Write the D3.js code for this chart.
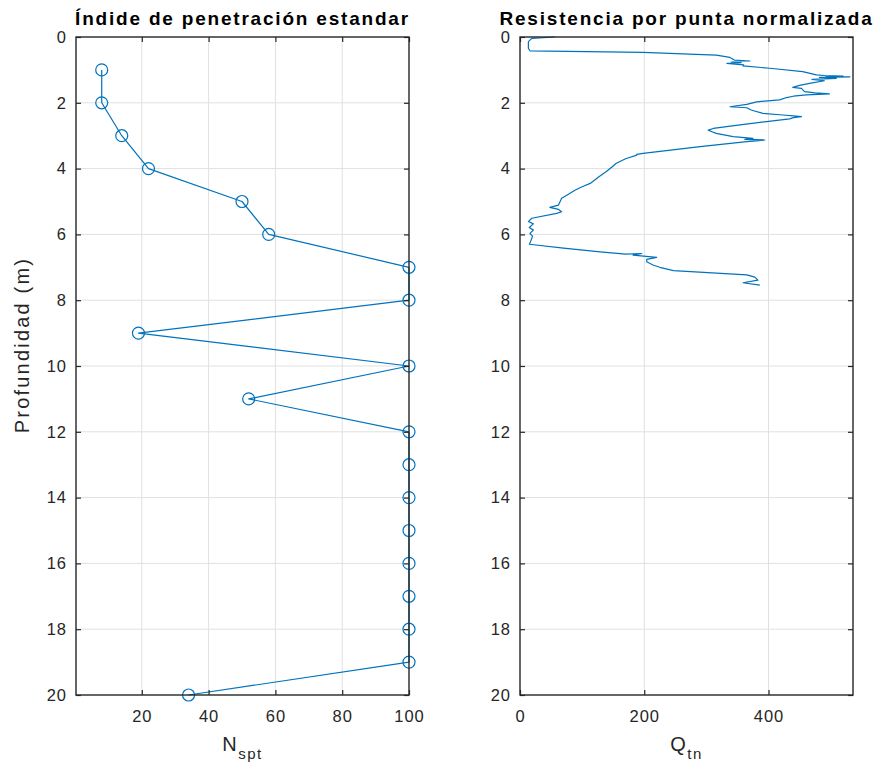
<!DOCTYPE html>
<html>
<head>
<meta charset="utf-8">
<script src="https://cdn.jsdelivr.net/npm/d3@7"></script>
<style>
  html, body { margin: 0; padding: 0; background: #ffffff; }
  svg { display: block; font-family: "Liberation Sans", Arial, Helvetica, sans-serif; }
</style>
</head>
<body>
<svg id="chart" width="886" height="768"></svg>
<script>
// SPT blow counts per metre of depth
const sptDepth = [1, 2, 3, 4, 5, 6, 7, 8, 9, 10, 11, 12, 13, 14, 15, 16, 17, 18, 19, 20];
const sptN     = [8, 8, 14, 22, 50, 58, 100, 100, 19, 100, 52, 100, 100, 100, 100, 100, 100, 100, 100, 34];

// Normalized cone tip resistance profile (depth in m, Qtn)
const cptDepth = [0.00, 0.04, 0.14, 0.34, 0.42, 0.47, 0.55, 0.62, 0.70, 0.73, 0.76, 0.78, 0.80, 0.85, 0.88, 0.95, 1.05, 1.15, 1.17, 1.19, 1.20, 1.21, 1.23, 1.26, 1.29, 1.33, 1.41, 1.47, 1.53, 1.56, 1.66, 1.70, 1.73, 1.76, 1.80, 1.84, 1.91, 1.97, 2.05, 2.12, 2.15, 2.22, 2.32, 2.37, 2.40, 2.42, 2.45, 2.49, 2.57, 2.67, 2.78, 2.83, 2.88, 2.93, 3.03, 3.08, 3.11, 3.13, 3.16, 3.18, 3.33, 3.54, 3.57, 3.59, 3.70, 3.84, 3.95, 4.09, 4.25, 4.45, 4.55, 4.65, 4.80, 4.90, 5.11, 5.18, 5.24, 5.31, 5.36, 5.51, 5.61, 5.68, 5.79, 5.87, 5.97, 6.05, 6.12, 6.22, 6.30, 6.42, 6.53, 6.60, 6.58, 6.63, 6.70, 6.76, 6.83, 6.93, 7.00, 7.10, 7.23, 7.30, 7.39, 7.47, 7.54];
const cptQtn   = [56, 19, 13.5, 13.5, 16, 198, 316, 338, 345, 370, 340, 356, 333, 360, 359, 402, 455, 477, 490, 520, 492, 531, 482, 509, 470, 490, 466, 450, 439, 453, 458, 475, 498, 461, 440, 429, 418, 381, 365, 338, 365, 372, 391, 423, 440, 453, 440, 434, 397, 354, 311, 303, 309, 316, 343, 375, 362, 394, 380, 365, 290, 198, 188, 188, 170, 155, 148, 139, 127, 113, 100, 89, 76, 67, 62, 48, 62, 67, 59, 19, 13.5, 21.5, 15, 21.5, 16, 20, 19, 17, 15, 70, 129, 170, 196, 182, 220, 204, 204, 214, 225, 247, 365, 378, 383, 359, 386];

// Axis ticks
const sptXTicks = [20, 40, 60, 80, 100];
const cptXTicks = [0, 200, 400];
const depthTicks = [0, 2, 4, 6, 8, 10, 12, 14, 16, 18, 20];

const svg = d3.select("#chart");
const ink = "#262626";
const lineColor = "#0072BD";
const gridColor = "#e0e0e0";

const plotTop = 37, plotBottom = 695;
const panels = [
  {
    left: 76, right: 409,
    xDomain: [0.3, 100], xTicks: sptXTicks,
    title: "Índide de penetración estandar",
    xLabel: "N", xSub: "spt",
    yLabel: "Profundidad (m)",
    xs: sptN, ys: sptDepth, markers: true
  },
  {
    left: 520, right: 853,
    xDomain: [0, 536], xTicks: cptXTicks,
    title: "Resistencia por punta normalizada",
    xLabel: "Q", xSub: "tn",
    yLabel: null,
    xs: cptQtn, ys: cptDepth, markers: false
  }
];

panels.forEach(p => {
  const x = d3.scaleLinear().domain(p.xDomain).range([p.left, p.right]);
  const y = d3.scaleLinear().domain([0, 20]).range([plotTop, plotBottom]);
  const g = svg.append("g");

  // grid
  g.append("g").selectAll("line")
    .data(p.xTicks.filter(t => x(t) > p.left + 1 && x(t) < p.right - 1))
    .join("line")
    .attr("x1", d => x(d)).attr("x2", d => x(d))
    .attr("y1", plotTop).attr("y2", plotBottom)
    .attr("stroke", gridColor).attr("stroke-width", 1);
  g.append("g").selectAll("line")
    .data(depthTicks.filter(t => t > 0 && t < 20))
    .join("line")
    .attr("x1", p.left).attr("x2", p.right)
    .attr("y1", d => y(d)).attr("y2", d => y(d))
    .attr("stroke", gridColor).attr("stroke-width", 1);

  // data line
  const pts = p.xs.map((v, i) => [v, p.ys[i]]);
  const line = d3.line().x(d => x(d[0])).y(d => y(d[1]));
  g.append("path")
    .datum(pts)
    .attr("d", line)
    .attr("fill", "none")
    .attr("stroke", lineColor)
    .attr("stroke-width", 1.2)
    .attr("stroke-linejoin", "round");

  if (p.markers) {
    g.append("g").selectAll("circle")
      .data(pts)
      .join("circle")
      .attr("cx", d => x(d[0])).attr("cy", d => y(d[1]))
      .attr("r", 6)
      .attr("fill", "none")
      .attr("stroke", lineColor)
      .attr("stroke-width", 1.2);
  }

  // axes (ticks pointing inward, mirrored on opposite sides)
  const tl = 5;
  const xAxisB = d3.axisBottom(x).tickValues(p.xTicks).tickSize(-tl).tickPadding(15).tickFormat(d3.format("d"));
  const xAxisT = d3.axisTop(x).tickValues(p.xTicks).tickSize(-tl).tickFormat("");
  const yAxisL = d3.axisLeft(y).tickValues(depthTicks).tickSize(-tl).tickPadding(9).tickFormat(d3.format("d"));
  const yAxisR = d3.axisRight(y).tickValues(depthTicks).tickSize(-tl).tickFormat("");

  const axes = [
    g.append("g").attr("transform", `translate(0,${plotBottom})`).call(xAxisB),
    g.append("g").attr("transform", `translate(0,${plotTop})`).call(xAxisT),
    g.append("g").attr("transform", `translate(${p.left},0)`).call(yAxisL),
    g.append("g").attr("transform", `translate(${p.right},0)`).call(yAxisR)
  ];
  axes.forEach(a => {
    a.select(".domain").remove();
    a.selectAll(".tick line").attr("stroke", ink).attr("stroke-width", 1.2);
    a.selectAll(".tick text").attr("fill", ink)
      .style("font-size", "16.5px").style("letter-spacing", "1px");
  });

  // frame
  g.append("rect")
    .attr("x", p.left).attr("y", plotTop)
    .attr("width", p.right - p.left).attr("height", plotBottom - plotTop)
    .attr("fill", "none").attr("stroke", ink).attr("stroke-width", 1.4);

  // title
  g.append("text")
    .attr("x", (p.left + p.right) / 2).attr("y", 25)
    .attr("text-anchor", "middle")
    .attr("fill", "#000")
    .style("font-size", "19px").style("font-weight", "bold")
    .style("letter-spacing", "1.8px")
    .text(p.title);

  // x label with subscript
  const xl = g.append("text")
    .attr("x", (p.left + p.right) / 2).attr("y", 751)
    .attr("text-anchor", "middle")
    .attr("fill", ink)
    .style("font-size", "20px").style("letter-spacing", "1.5px");
  xl.append("tspan").text(p.xLabel);
  xl.append("tspan").attr("dy", 8).style("font-size", "15px").text(p.xSub);

  if (p.yLabel) {
    g.append("text")
      .attr("transform", `translate(29,345) rotate(-90)`)
      .attr("text-anchor", "middle")
      .attr("fill", ink)
      .style("font-size", "20px").style("letter-spacing", "2.2px")
      .text(p.yLabel);
  }
});
</script>
</body>
</html>
